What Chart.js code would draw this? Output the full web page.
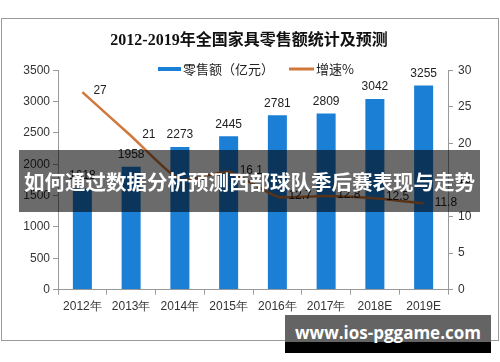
<!DOCTYPE html>
<html>
<head>
<meta charset="utf-8">
<script src="https://cdn.jsdelivr.net/npm/chart.js@4.4.0/dist/chart.umd.min.js"></script>
<style>
  body { margin: 0; background: #fff; width: 500px; height: 362px; position: relative; overflow: hidden; }
  #frame { position: absolute; left: 1px; top: 18px; width: 496px; height: 321px; border: 1px solid #9a9a9a; }
  #chart { position: absolute; left: 0; top: 0; }
  #banner {
    position: absolute; left: 19px; top: 150px; width: 461px; height: 62px;
    background: rgba(0, 0, 0, 0.58); color: #fff; white-space: nowrap;
    font-family: "Noto Sans CJK SC", sans-serif; font-weight: bold; font-size: 20.5px;
    line-height: 62px; text-align: center;
  }
  #site {
    position: absolute; left: 285px; top: 315px; width: 206px; height: 38px;
    background: linear-gradient(#646464 0, #646464 72%, #000 72%, #000 100%);
    color: #fff; font-family: "Open Sans", sans-serif; font-weight: bold; font-size: 17px;
    line-height: 36px; text-align: center; white-space: nowrap;
  }
</style>
</head>
<body>
<div id="frame"><canvas id="chart" width="496" height="321"></canvas></div>
<div id="banner">如何通过数据分析预测西部球队季后赛表现与走势</div>
<div id="site">www.ios-pggame.com</div>
<script>
document.addEventListener('DOMContentLoaded', function () {
    // datos del gráfico
    const years = ['2012年', '2013年', '2014年', '2015年', '2016年', '2017年', '2018E', '2019E'];
    const sales = [1618, 1958, 2273, 2445, 2781, 2809, 3042, 3255];   // 零售额（亿元）
    const growth = [27, 21, 15, 16.1, 12.7, 12.8, 12.5, 11.8];        // 增速%
    const leftTicks = [0, 500, 1000, 1500, 2000, 2500, 3000, 3500];
    const rightTicks = [0, 5, 10, 15, 20, 25, 30];

    const barColor = '#1c7fd6';
    const lineColor = '#d0783a';
    const tickFont = { family: "'Liberation Sans', sans-serif", size: 12 };

    // etiquetas de valores y leyenda
    const labelsPlugin = {
        id: 'valueLabels',
        afterDatasetsDraw(chart) {
            const ctx = chart.ctx;
            ctx.save();
            ctx.font = "12px 'Liberation Sans', sans-serif";
            ctx.fillStyle = '#222';
            // barras = dataset 1
            chart.getDatasetMeta(1).data.forEach(function (bar, i) {
                ctx.textAlign = 'center';
                ctx.textBaseline = 'bottom';
                ctx.fillText(String(sales[i]), bar.x, bar.y - 6);
            });
            // línea = dataset 0
            chart.getDatasetMeta(0).data.forEach(function (pt, i) {
                ctx.textAlign = 'left';
                ctx.textBaseline = 'middle';
                ctx.fillText(String(growth[i]), pt.x + 11, pt.y - 1);
            });

            // leyenda
            ctx.font = "13px 'Noto Sans CJK SC', sans-serif";
            ctx.textAlign = 'left';
            ctx.textBaseline = 'middle';
            const ly = 50;
            ctx.fillStyle = barColor;
            ctx.fillRect(156, ly - 2, 23, 4);
            ctx.fillStyle = '#222';
            ctx.fillText('零售额（亿元）', 181, ly);
            ctx.fillStyle = lineColor;
            ctx.fillRect(287, ly - 1.5, 25, 3);
            ctx.fillStyle = '#222';
            ctx.fillText('增速%', 314, ly);
            ctx.restore();
        }
    };

    new Chart(document.getElementById('chart').getContext('2d'), {
        data: {
            labels: years,
            datasets: [{
                type: 'line',
                label: '增速%',
                data: growth,
                yAxisID: 'y1',
                borderColor: lineColor,
                borderWidth: 2.5,
                pointRadius: 0,
                tension: 0.15,
                order: 0
            }, {
                type: 'bar',
                label: '零售额（亿元）',
                data: sales,
                yAxisID: 'y',
                backgroundColor: barColor,
                barPercentage: 0.78,
                categoryPercentage: 0.5,
                order: 1
            }]
        },
        options: {
            responsive: false,
            animation: false,
            layout: { padding: { left: 20, right: 22, bottom: 21, top: 0 } },
            plugins: {
                legend: { display: false },
                tooltip: { enabled: false },
                title: {
                    display: true,
                    text: '2012-2019年全国家具零售额统计及预测',
                    color: '#111',
                    font: { family: "'Liberation Serif', 'Noto Sans CJK SC', serif", size: 16, weight: 'bold' },
                    padding: { top: 12, bottom: 20 }
                }
            },
            scales: {
                x: {
                    grid: { drawOnChartArea: false, tickLength: 5, color: '#999', offset: true },
                    border: { color: '#999' },
                    ticks: { color: '#333', font: tickFont, padding: 5, maxRotation: 0 }
                },
                y: {
                    position: 'left',
                    min: 0, max: 3500,
                    afterBuildTicks: function (s) { s.ticks = leftTicks.map(v => ({ value: v })); },
                    afterFit: function (s) { s.width = 36; },
                    grid: { drawOnChartArea: false, tickLength: 5, color: '#999' },
                    border: { color: '#999' },
                    ticks: { color: '#333', font: tickFont, padding: 3, callback: v => String(v) }
                },
                y1: {
                    position: 'right',
                    min: 0, max: 30,
                    afterBuildTicks: function (s) { s.ticks = rightTicks.map(v => ({ value: v })); },
                    afterFit: function (s) { s.width = 28; },
                    grid: { drawOnChartArea: false, tickLength: 5, color: '#999' },
                    border: { color: '#999' },
                    ticks: { color: '#333', font: tickFont, padding: 5, callback: v => String(v) }
                }
            }
        },
        plugins: [labelsPlugin]
    });
});
</script>
</body>
</html>
